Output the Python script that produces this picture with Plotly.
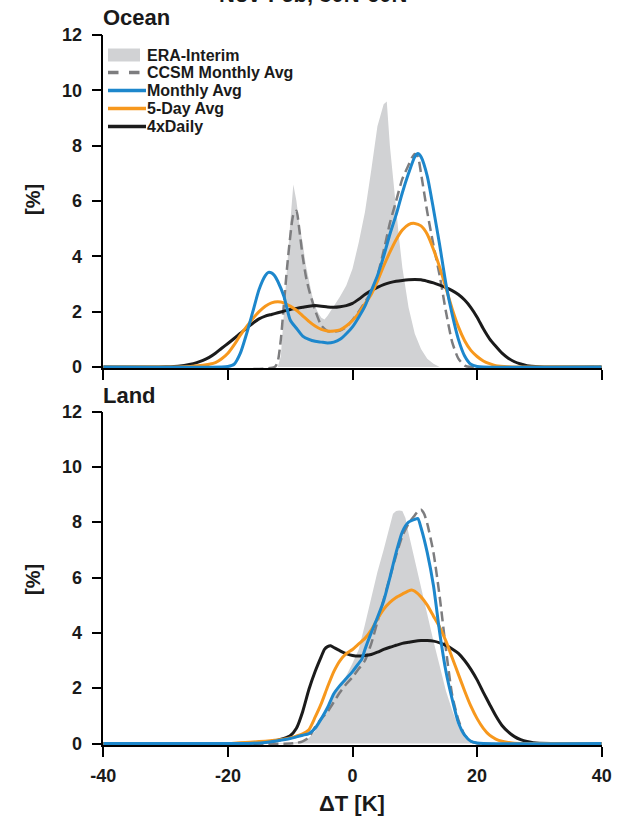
import plotly.graph_objects as go

# ---------------- Ocean ----------------
ocean_era_x = [-40, -12, -11.5, -11, -10.5, -10, -9.5, -9, -8.5, -8, -7.5, -7, -6.5, -6, -5.5, -5, -4.5, -4,
               -3, -2, -1, 0, 1, 2, 3, 4, 5, 5.5, 6, 6.5, 7, 7.5, 8, 8.5, 9, 10, 11, 12, 13, 14, 40]
ocean_era_y = [0, 0, 0.4, 2.0, 3.8, 5.2, 6.6, 6.0, 5.1, 4.5, 3.7, 3.1, 2.6, 2.2, 1.95, 1.78, 1.72, 1.85,
               2.2, 2.55, 2.95, 3.55, 4.5, 5.6, 7.1, 8.7, 9.5, 9.6, 8.0, 6.8, 5.7, 4.6, 3.6, 2.8, 2.15,
               1.2, 0.65, 0.3, 0.12, 0, 0]

ocean_ccsm_x = [-40, -12.5, -12, -11.5, -11, -10.5, -10, -9.5, -9, -8.5, -8, -7.5, -7, -6, -5, -4, -3, -2,
                -1, 0, 1, 2, 3, 4, 5, 6, 7, 8, 9, 9.5, 10, 10.5, 11, 12, 13, 14, 15, 16, 17, 18, 19, 40]
ocean_ccsm_y = [0, 0, 0.2, 1.0, 2.3, 3.6, 4.7, 5.5, 5.65, 4.9, 4.0, 3.3, 2.8, 2.05, 1.5, 1.3, 1.28, 1.32,
                1.45, 1.7, 2.0, 2.35, 2.7, 3.3, 4.2, 5.2, 6.0, 6.8, 7.3, 7.55, 7.7, 7.6, 7.0, 5.6, 4.4,
                3.3, 2.0, 0.9, 0.3, 0.05, 0, 0]

ocean_mon_x = [-40, -21, -20, -19, -18, -17, -16, -15, -14, -13.5, -13, -12.5, -12, -11, -10, -9, -8, -7,
               -6, -5, -4, -3, -2, -1, 0, 1, 2, 3, 4, 5, 6, 7, 8, 9, 10, 10.5, 11, 12, 13, 14, 15, 16,
               17, 18, 19, 20, 21, 40]
ocean_mon_y = [0, 0, 0.02, 0.1, 0.5, 1.2, 2.0, 2.8, 3.3, 3.42, 3.4, 3.3, 3.1, 2.55, 1.7, 1.4, 1.12, 1.0,
               0.93, 0.9, 0.87, 0.9, 1.0, 1.2, 1.45, 1.8, 2.2, 2.75, 3.3, 4.0, 4.8, 5.5, 6.3, 7.0, 7.6,
               7.72, 7.6, 6.9, 5.7, 4.4, 3.0, 1.9, 1.0, 0.4, 0.1, 0.02, 0, 0]

ocean_5d_x = [-40, -28, -26, -24, -23, -22, -21, -20, -19, -18, -17, -16, -15, -14, -13, -12, -11, -10,
              -9, -8, -7, -6, -5, -4, -3, -2, -1, 0, 1, 2, 3, 4, 5, 6, 7, 8, 9, 10, 11, 12, 13, 14, 15,
              16, 17, 18, 19, 20, 21, 22, 23, 25, 27, 40]
ocean_5d_y = [0, 0, 0.02, 0.06, 0.1, 0.16, 0.3, 0.5, 0.8, 1.15, 1.46, 1.75, 2.0, 2.2, 2.32, 2.36, 2.32,
              2.2, 2.05, 1.85, 1.65, 1.48, 1.36, 1.3, 1.3, 1.34, 1.48, 1.68, 1.95, 2.28, 2.62, 3.1, 3.65,
              4.15, 4.6, 4.95, 5.15, 5.19, 5.1, 4.8, 4.25, 3.6, 2.85, 2.1, 1.45, 0.95, 0.6, 0.38, 0.22,
              0.12, 0.05, 0.01, 0, 0]

ocean_4x_x = [-40, -32, -30, -28, -26, -25, -24, -23, -22, -21, -20, -19, -18, -17, -16, -15, -14, -13,
              -12, -11, -10, -9, -8, -7, -6, -5, -4, -3, -2, -1, 0, 1, 2, 3, 4, 5, 6, 7, 8, 9, 10, 11,
              12, 13, 14, 15, 16, 17, 18, 19, 20, 21, 22, 23, 24, 25, 26, 27, 28, 30, 32, 40]
ocean_4x_y = [0, 0, 0.01, 0.03, 0.1, 0.16, 0.24, 0.35, 0.5, 0.68, 0.85, 1.03, 1.22, 1.4, 1.58, 1.74,
              1.84, 1.9, 1.96, 2.02, 2.08, 2.12, 2.16, 2.2, 2.22, 2.2, 2.17, 2.16, 2.18, 2.22, 2.3, 2.45,
              2.62, 2.76, 2.88, 2.98, 3.05, 3.1, 3.13, 3.15, 3.16, 3.15, 3.1, 3.04, 2.96, 2.87, 2.76,
              2.62, 2.42, 2.15, 1.8, 1.38, 1.02, 0.75, 0.5, 0.32, 0.19, 0.11, 0.05, 0.01, 0, 0]

# ---------------- Land ----------------
land_era_x = [-40, -12, -10, -8, -7, -6, -5, -4, -3, -2, -1, 0, 1, 2, 3, 4, 5, 6, 6.5, 7, 7.5, 8, 8.5,
              9, 10, 11, 12, 13, 14, 15, 16, 17, 18, 19, 20, 40]
land_era_y = [0, 0, 0.02, 0.08, 0.2, 0.45, 0.85, 1.3, 1.75, 2.1, 2.45, 2.9, 3.4, 4.3, 5.3, 6.2, 7.0, 7.8,
              8.3, 8.4, 8.42, 8.4, 8.15, 7.6, 6.6, 5.7, 4.7, 3.7, 2.8, 1.9, 1.2, 0.6, 0.2, 0.05, 0, 0]

land_ccsm_x = [-40, -10, -9, -8, -7, -6, -5, -4, -3, -2, -1, 0, 1, 2, 3, 4, 5, 6, 7, 8, 9, 10, 10.5,
               11, 11.5, 12, 13, 14, 15, 16, 17, 18, 19, 20, 40]
land_ccsm_y = [0, 0, 0.02, 0.08, 0.22, 0.6, 0.9, 1.15, 1.5, 1.85, 2.15, 2.4, 2.7, 3.0, 3.6, 4.4, 5.2,
               6.0, 6.8, 7.5, 7.95, 8.25, 8.4, 8.45, 8.3, 7.95, 6.9, 5.3, 3.4, 1.75, 0.85, 0.3, 0.08,
               0.01, 0]

land_mon_x = [-40, -18, -16, -14, -12, -10, -9, -8, -7, -6, -5, -4, -3, -2, -1, 0, 1, 1.5, 2, 3, 4, 5,
              6, 7, 8, 9, 10, 10.5, 11, 12, 13, 14, 15, 16, 17, 18, 19, 20, 21, 40]
land_mon_y = [0, 0, 0.01, 0.04, 0.1, 0.18, 0.24, 0.3, 0.36, 0.55, 0.9, 1.3, 1.8, 2.1, 2.35, 2.6, 2.9,
              3.05, 3.4, 4.0, 4.55, 5.15, 6.0, 6.9, 7.65, 8.0, 8.1, 8.13, 7.8, 6.9, 5.7, 4.0, 2.6, 1.6,
              0.75, 0.3, 0.08, 0.02, 0, 0]

land_5d_x = [-40, -20, -18, -15, -12, -10, -9, -8, -7, -6, -5, -4, -3, -2, -1, 0, 1, 2, 3, 4, 5, 6, 7,
             8, 9, 9.5, 10, 11, 12, 13, 14, 15, 16, 17, 18, 19, 20, 21, 22, 23, 24, 25, 26, 40]
land_5d_y = [0, 0, 0.03, 0.07, 0.13, 0.2, 0.27, 0.35, 0.5, 0.95, 1.45, 2.05, 2.6, 3.0, 3.25, 3.4, 3.6,
             3.8, 4.1, 4.5, 4.85, 5.1, 5.28, 5.4, 5.52, 5.55, 5.5, 5.3, 5.0, 4.6, 4.2, 3.7, 3.1, 2.5,
             1.9, 1.35, 0.9, 0.55, 0.3, 0.16, 0.08, 0.04, 0.01, 0]

land_4x_x = [-40, -20, -16, -14, -12, -11, -10, -9, -8, -7, -6, -5, -4.5, -4, -3.5, -3, -2, -1, 0, 1,
             2, 3, 4, 5, 6, 7, 8, 9, 10, 11, 12, 13, 14, 15, 16, 17, 18, 19, 20, 21, 22, 23, 24, 25,
             26, 27, 28, 29, 30, 40]
land_4x_y = [0, 0, 0.02, 0.05, 0.12, 0.18, 0.28, 0.55, 1.15, 1.95, 2.6, 3.15, 3.4, 3.5, 3.53, 3.47,
             3.35, 3.25, 3.18, 3.16, 3.18, 3.22, 3.3, 3.4, 3.48, 3.55, 3.62, 3.66, 3.7, 3.72, 3.72,
             3.7, 3.64, 3.55, 3.42, 3.26, 3.0, 2.68, 2.3, 1.85, 1.42, 1.0, 0.65, 0.42, 0.25, 0.14,
             0.07, 0.03, 0.01, 0]

series_names = ["ERA-Interim", "CCSM Monthly Avg", "Monthly Avg", "5-Day Avg", "4xDaily"]
x_ticks = [-40, -20, 0, 20, 40]
x_ticktext = ["-40", "-20", "0", "20", "40"]
y_ticks = [0, 2, 4, 6, 8, 10, 12]

C_FILL = "#d1d2d4"
C_CCSM = "#7d7d7f"
C_MON = "#1d87cc"
C_5D = "#f7981d"
C_4X = "#1b1b1b"

W, H = 627, 821
FONT = "Liberation Sans, Arial, sans-serif"


def px_x(p):
    return p / W


def px_y(p):
    return 1 - p / H


fig = go.Figure()

panels = [
    ("x", "y", ocean_era_x, ocean_era_y, ocean_ccsm_x, ocean_ccsm_y, ocean_mon_x, ocean_mon_y,
     ocean_5d_x, ocean_5d_y, ocean_4x_x, ocean_4x_y),
    ("x2", "y2", land_era_x, land_era_y, land_ccsm_x, land_ccsm_y, land_mon_x, land_mon_y,
     land_5d_x, land_5d_y, land_4x_x, land_4x_y),
]

for (xa, ya, ex, ey, cx, cy, mx, my, fx, fy, kx, ky) in panels:
    fig.add_trace(go.Scatter(x=ex, y=ey, xaxis=xa, yaxis=ya, mode="lines", fill="tozeroy",
                             fillcolor=C_FILL, line=dict(width=0, color=C_FILL),
                             name=series_names[0], showlegend=False, hoverinfo="skip"))
    fig.add_trace(go.Scatter(x=cx, y=cy, xaxis=xa, yaxis=ya, mode="lines", name=series_names[1],
                             line=dict(color=C_CCSM, width=2.5, dash="10px,5px", shape="spline",
                                       smoothing=0.6),
                             showlegend=False))
    fig.add_trace(go.Scatter(x=kx, y=ky, xaxis=xa, yaxis=ya, mode="lines", name=series_names[4],
                             line=dict(color=C_4X, width=3, shape="spline", smoothing=0.6),
                             showlegend=False))
    fig.add_trace(go.Scatter(x=fx, y=fy, xaxis=xa, yaxis=ya, mode="lines", name=series_names[3],
                             line=dict(color=C_5D, width=3, shape="spline", smoothing=0.6),
                             showlegend=False))
    fig.add_trace(go.Scatter(x=mx, y=my, xaxis=xa, yaxis=ya, mode="lines", name=series_names[2],
                             line=dict(color=C_MON, width=3, shape="spline", smoothing=0.6),
                             showlegend=False))

x_dom = [px_x(103.3), px_x(601.7)]
top_dom = [px_y(368.4), px_y(35)]
bot_dom = [px_y(744.9), px_y(411.5)]

axis_common = dict(showgrid=False, zeroline=False, showline=True, linecolor="black", linewidth=1.5,
                   ticks="outside", ticklen=10, tickwidth=1.5, tickcolor="black", automargin=False,
                   tickfont=dict(family=FONT, size=18, color="#1a1a1a", weight="bold"))

fig.update_layout(
    width=W, height=H,
    margin=dict(l=0, r=0, t=0, b=0, autoexpand=False),
    paper_bgcolor="white", plot_bgcolor="white",
    showlegend=False,
    xaxis=dict(domain=x_dom, anchor="y", range=[-40, 40], tickvals=x_ticks, showticklabels=False,
               **axis_common),
    yaxis=dict(domain=top_dom, anchor="x", range=[-0.05, 12], tickvals=y_ticks,
               ticklabelstandoff=6, **axis_common),
    xaxis2=dict(domain=x_dom, anchor="y2", range=[-40, 40], tickvals=x_ticks, ticktext=x_ticktext,
                ticklabelstandoff=4, **axis_common),
    yaxis2=dict(domain=bot_dom, anchor="x2", range=[-0.05, 12], tickvals=y_ticks,
                ticklabelstandoff=6, **axis_common),
)

# key in the upper-left corner of the Ocean panel
key_rows = [55, 72.5, 90.5, 108.5, 126.5]
key_x0, key_x1 = 108, 146
fig.add_shape(type="rect", xref="paper", yref="paper", x0=px_x(key_x0), x1=px_x(key_x1 - 6),
              y0=px_y(key_rows[0] + 6.5), y1=px_y(key_rows[0] - 6.5), fillcolor=C_FILL, line_width=0)
key_lines = [(C_CCSM, "dash"), (C_MON, "solid"), (C_5D, "solid"), (C_4X, "solid")]
for row, (col, dash) in zip(key_rows[1:], key_lines):
    fig.add_shape(type="line", xref="paper", yref="paper", x0=px_x(key_x0), x1=px_x(key_x1),
                  y0=px_y(row), y1=px_y(row), line=dict(color=col, width=3.5, dash=dash))

label_font = dict(family=FONT, color="#1a1a1a", weight="bold")
for row, name in zip(key_rows, series_names):
    fig.add_annotation(xref="paper", yref="paper", showarrow=False, text=name,
                       x=px_x(key_x1 - 1), y=px_y(row), xanchor="left", yanchor="middle",
                       font=dict(size=16, **label_font))

annotations = [
    dict(text="Nov-Feb, 30N-60N", x=px_x(313), y=px_y(9.5), xanchor="center", yanchor="bottom",
         font=dict(size=22, **label_font)),
    dict(text="Ocean", x=px_x(101), y=px_y(18), xanchor="left", yanchor="middle",
         font=dict(size=22, **label_font)),
    dict(text="Land", x=px_x(101), y=px_y(395), xanchor="left", yanchor="middle",
         font=dict(size=22, **label_font)),
    dict(text="[%]", x=px_x(33), y=px_y(200), xanchor="center", yanchor="middle", textangle=-90,
         font=dict(size=20, **label_font)),
    dict(text="[%]", x=px_x(33), y=px_y(580), xanchor="center", yanchor="middle", textangle=-90,
         font=dict(size=20, **label_font)),
    dict(text="ΔT [K]", x=px_x(352), y=px_y(803), xanchor="center", yanchor="middle",
         font=dict(size=22, **label_font)),
]
for a in annotations:
    fig.add_annotation(xref="paper", yref="paper", showarrow=False, **a)

fig.write_html("out.html")
